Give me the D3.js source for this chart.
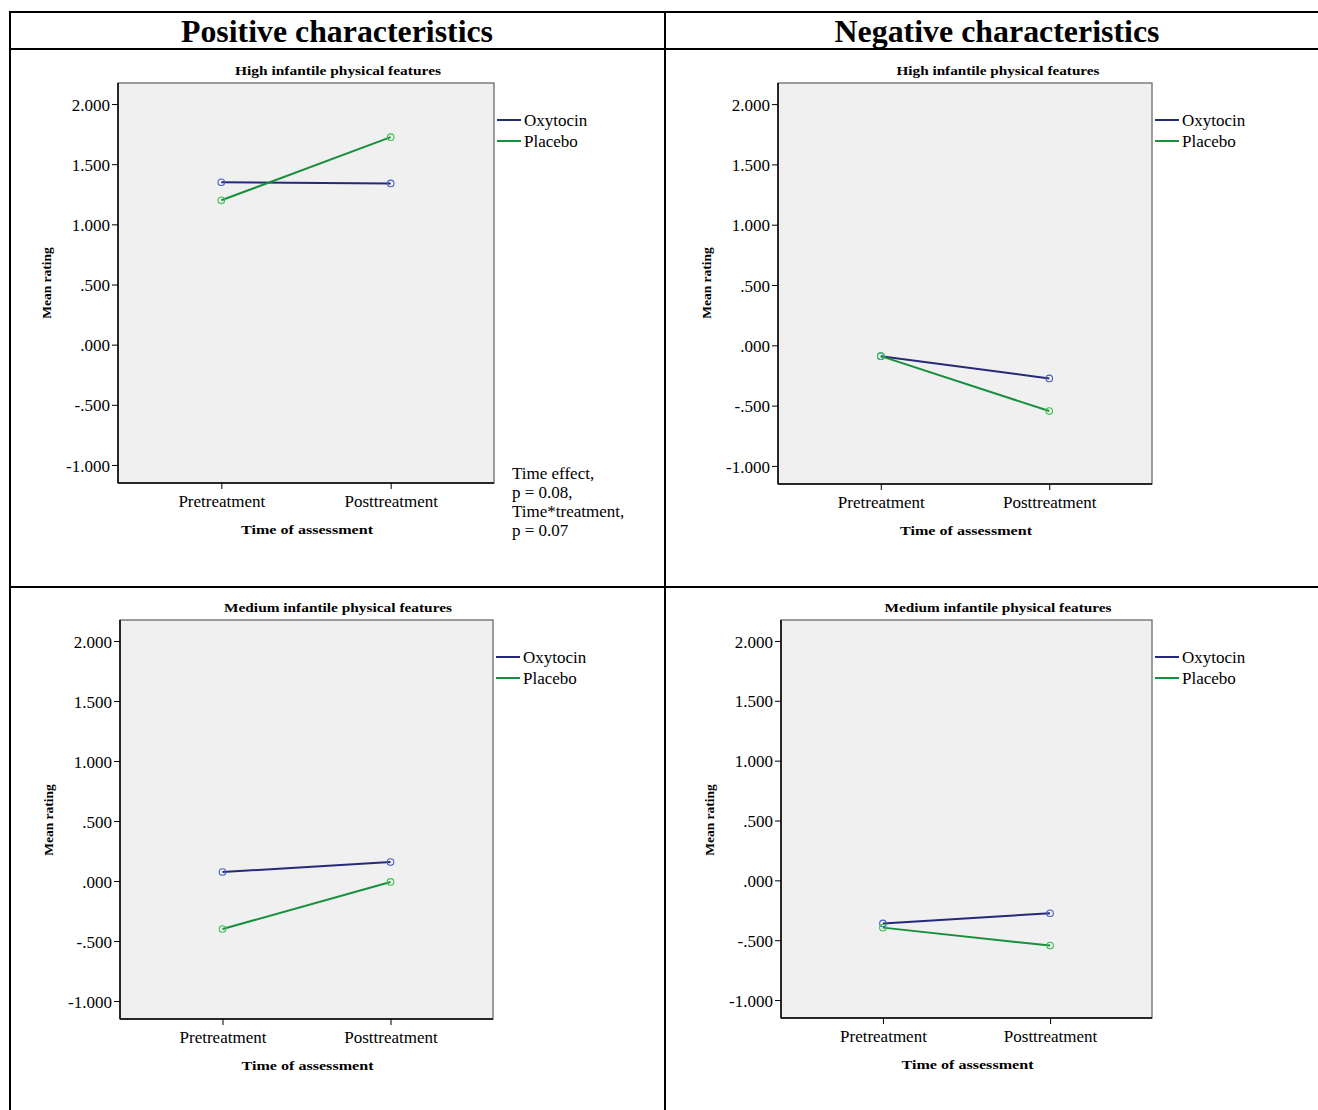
<!DOCTYPE html>
<html>
<head>
<meta charset="utf-8">
<script src="https://cdn.jsdelivr.net/npm/d3@7"></script>
<style>
  body { margin: 0; background: #fff; }
  svg text { font-family: "Liberation Serif", "DejaVu Serif", serif; fill: #000; }
  .tick line { stroke: #000; }
  .domain { stroke: none; }
</style>
</head>
<body>
<svg width="1318" height="1110"></svg>
<script>
// data
const times = ["Pretreatment", "Posttreatment"];
const groups = ["Oxytocin", "Placebo"];
const yTicks = [2, 1.5, 1, 0.5, 0, -0.5, -1];
const yTickLabels = ["2.000", "1.500", "1.000", ".500", ".000", "-.500", "-1.000"];
const columnTitles = ["Positive characteristics", "Negative characteristics"];
const rowTitles = ["High infantile physical features", "Medium infantile physical features"];

const posHighOxytocin = [1.35, 1.34];
const posHighPlacebo = [1.20, 1.725];
const negHighOxytocin = [-0.09, -0.275];
const negHighPlacebo = [-0.09, -0.545];
const posMedOxytocin = [0.075, 0.158];
const posMedPlacebo = [-0.40, -0.008];
const negMedOxytocin = [-0.36, -0.275];
const negMedPlacebo = [-0.395, -0.545];

const noteLines = ["Time effect,", "p = 0.08,", "Time*treatment,", "p = 0.07"];

const lineColors = { Oxytocin: "#252a78", Placebo: "#17903c" };
const markColors = { Oxytocin: "#4a5fc4", Placebo: "#3cc050" };

const svg = d3.select("svg");

// table frame
const frame = svg.append("g").attr("stroke", "#000").attr("stroke-width", 2);
frame.append("line").attr("x1", 9).attr("x2", 1318).attr("y1", 12).attr("y2", 12);
frame.append("line").attr("x1", 9).attr("x2", 1318).attr("y1", 49).attr("y2", 49);
frame.append("line").attr("x1", 9).attr("x2", 1318).attr("y1", 587).attr("y2", 587);
frame.append("line").attr("x1", 10).attr("x2", 10).attr("y1", 11).attr("y2", 1110);
frame.append("line").attr("x1", 665).attr("x2", 665).attr("y1", 11).attr("y2", 1110);

// column headers
const headerX = [337, 997];
columnTitles.forEach((t, i) => {
  svg.append("text")
    .attr("x", headerX[i])
    .attr("y", 42)
    .attr("text-anchor", "middle")
    .attr("font-size", 31)
    .attr("font-weight", "bold")
    .attr("textLength", i === 0 ? 312 : 325)
    .attr("lengthAdjust", "spacingAndGlyphs")
    .text(t);
});

const drawPanel = (p) => {
  const g = svg.append("g");
  const left = p.left, top = p.top, width = p.width, height = p.height;

  const scaleX = d3.scalePoint()
    .domain(times)
    .range([left, left + width])
    .padding(0.61);

  const scaleY = d3.scaleLinear()
    .domain([-1.15, 2.175])
    .range([top + height, top]);

  // plot background
  g.append("rect")
    .attr("x", left)
    .attr("y", top)
    .attr("width", width)
    .attr("height", height)
    .attr("fill", "#f0f0f0")
    .attr("stroke", "#6b6b6b")
    .attr("stroke-width", 1.3);

  // panel title, centred on the table cell
  g.append("text")
    .attr("x", p.cellCenter)
    .attr("y", top - 8)
    .attr("text-anchor", "middle")
    .attr("font-size", 13.5)
    .attr("font-weight", "bold")
    .attr("textLength", p.titleLen)
    .attr("lengthAdjust", "spacingAndGlyphs")
    .text(p.title);

  const axisY = d3.axisLeft(scaleY)
    .tickValues(yTicks)
    .tickFormat((d, i) => yTickLabels[i])
    .tickSize(6)
    .tickSizeOuter(0)
    .tickPadding(2);

  g.append("g")
    .attr("transform", `translate(${left},0)`)
    .call(axisY)
    .call((a) => a.selectAll("text").attr("font-size", 17).attr("font-family", "Liberation Serif").attr("dy", "0.36em"));

  const axisX = d3.axisBottom(scaleX)
    .tickSize(6)
    .tickSizeOuter(0)
    .tickPadding(6);

  g.append("g")
    .attr("transform", `translate(0,${top + height})`)
    .call(axisX)
    .call((a) => a.selectAll("text").attr("font-size", 17).attr("font-family", "Liberation Serif"));

  // axis lines (left and bottom are black)
  g.append("line")
    .attr("x1", left).attr("x2", left)
    .attr("y1", top).attr("y2", top + height)
    .attr("stroke", "#000").attr("stroke-width", 1.5);
  g.append("line")
    .attr("x1", left).attr("x2", left + width)
    .attr("y1", top + height).attr("y2", top + height)
    .attr("stroke", "#000").attr("stroke-width", 1.5);

  // axis titles
  g.append("text")
    .attr("x", left + width / 2 + 1)
    .attr("y", top + height + 51)
    .attr("text-anchor", "middle")
    .attr("font-size", 13.5)
    .attr("font-weight", "bold")
    .attr("textLength", 132)
    .attr("lengthAdjust", "spacingAndGlyphs")
    .text("Time of assessment");

  g.append("text")
    .attr("transform", `translate(${left - 67},${top + 200}) rotate(-90)`)
    .attr("text-anchor", "middle")
    .attr("font-size", 13.5)
    .attr("font-weight", "bold")
    .text("Mean rating");

  // series
  const line = d3.line()
    .x((d, i) => scaleX(times[i]))
    .y((d) => scaleY(d));

  p.series.forEach((s) => {
    g.append("path")
      .datum(s.values)
      .attr("d", line)
      .attr("fill", "none")
      .attr("stroke", lineColors[s.name])
      .attr("stroke-width", 2);
  });

  p.series.forEach((s) => {
    g.selectAll(null)
      .data(s.values)
      .enter()
      .append("circle")
      .attr("cx", (d, i) => scaleX(times[i]))
      .attr("cy", (d) => scaleY(d))
      .attr("r", 3.3)
      .attr("fill", "none")
      .attr("stroke", markColors[s.name])
      .attr("stroke-width", 1.1);
  });

  // legend
  const legend = g.append("g")
    .attr("transform", `translate(${left + width + 3},${top + 37})`);
  groups.forEach((name, i) => {
    legend.append("line")
      .attr("x1", 0).attr("x2", 24)
      .attr("y1", i * 21).attr("y2", i * 21)
      .attr("stroke", lineColors[name])
      .attr("stroke-width", 2);
    legend.append("text")
      .attr("x", 27)
      .attr("y", i * 21)
      .attr("dy", "0.35em")
      .attr("font-size", 17)
      .text(name);
  });

  if (p.note) {
    const note = g.append("text")
      .attr("x", left + width + 18)
      .attr("y", top + 396)
      .attr("font-size", 17);
    p.note.forEach((t, i) => {
      note.append("tspan")
        .attr("x", left + width + 18)
        .attr("dy", i === 0 ? 0 : 19)
        .text(t);
    });
  }
};

drawPanel({
  left: 118, top: 83, width: 376, height: 400, cellCenter: 338,
  title: rowTitles[0], titleLen: 206,
  series: [{ name: "Oxytocin", values: posHighOxytocin }, { name: "Placebo", values: posHighPlacebo }],
  note: noteLines
});

drawPanel({
  left: 778, top: 83, width: 374, height: 401, cellCenter: 998,
  title: rowTitles[0], titleLen: 203,
  series: [{ name: "Oxytocin", values: negHighOxytocin }, { name: "Placebo", values: negHighPlacebo }]
});

drawPanel({
  left: 120, top: 620, width: 373, height: 399, cellCenter: 338,
  title: rowTitles[1], titleLen: 228,
  series: [{ name: "Oxytocin", values: posMedOxytocin }, { name: "Placebo", values: posMedPlacebo }]
});

drawPanel({
  left: 781, top: 620, width: 371, height: 398, cellCenter: 998,
  title: rowTitles[1], titleLen: 227,
  series: [{ name: "Oxytocin", values: negMedOxytocin }, { name: "Placebo", values: negMedPlacebo }]
});
</script>
</body>
</html>
